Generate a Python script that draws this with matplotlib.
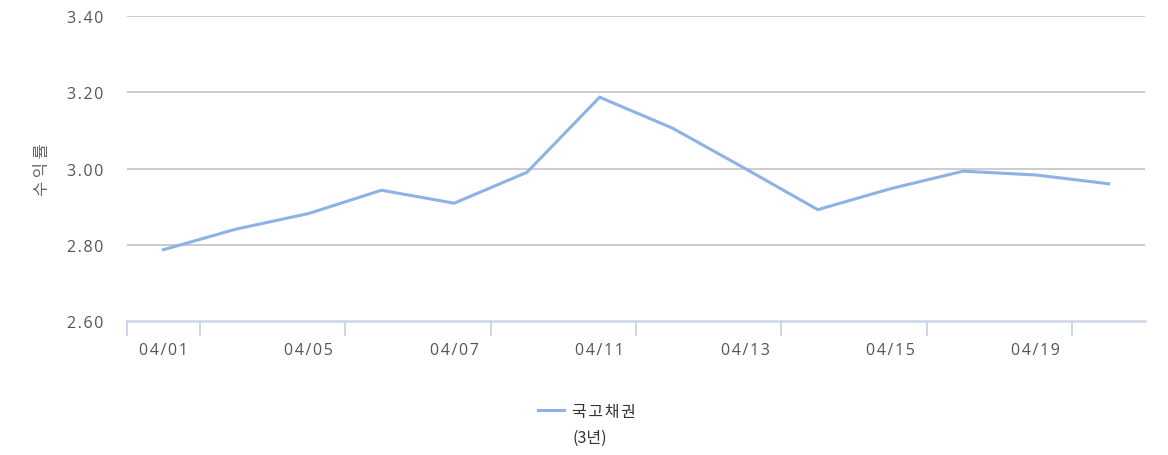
import matplotlib
matplotlib.use("Agg")
import matplotlib.pyplot as plt
from matplotlib.lines import Line2D

# ---- data ----
categories = ["04/01", "04/04", "04/05", "04/06", "04/07", "04/08", "04/11",
              "04/12", "04/13", "04/14", "04/15", "04/18", "04/19", "04/20"]
values = [2.787, 2.841, 2.882, 2.943, 2.909, 2.990, 3.187,
          3.106, 3.000, 2.892, 2.947, 2.993, 2.983, 2.960]
series_name = "국고채권"
series_sub = "(3년)"
y_title = "수익률"
y_ticks = [2.60, 2.80, 3.00, 3.20, 3.40]

LINE_COLOR = "#8db3e6"
KR = ["Noto Sans CJK KR", "DejaVu Sans"]
NUM = ["Open Sans", "DejaVu Sans"]
HS = "\u200a"  # hair space to mimic letter spacing


def spaced(s):
    return HS.join(s)


W, H = 1168, 456
fig = plt.figure(figsize=(W / 100, H / 100), dpi=100)
L, R, T, B = 127, 1145, 17, 322
ax = fig.add_axes([L / W, 1 - B / H, (R - L) / W, (B - T) / H])

x = list(range(len(categories)))
ax.plot(x, values, color=LINE_COLOR, lw=2.2, solid_joinstyle="miter", zorder=3)

ax.set_xlim(-0.5, len(categories) - 0.5)
ax.set_ylim(2.60, 3.40)

# y grid / ticks
ax.set_yticks(y_ticks)
ax.set_yticklabels([spaced(f"{v:.2f}") for v in y_ticks], family=NUM,
                   fontsize=11.5, color="#555555")
ax.tick_params(axis="y", length=0, pad=17)
for v in y_ticks[1:]:
    ax.axhline(v, color="#c8c8c8", lw=1.3, zorder=1)

# x axis: labels on every other category, tick marks at boundaries
label_idx = list(range(0, len(categories), 2))
ax.set_xticks(label_idx)
ax.set_xticklabels([spaced(categories[i]) for i in label_idx], family=NUM,
                   fontsize=11.5, color="#555555")
ax.tick_params(axis="x", length=0, pad=15)
bounds = [-0.5] + [i + 0.5 for i in range(0, len(categories) - 1, 2)]
for b in bounds:
    ax.plot([b, b], [0, -0.047], transform=ax.get_xaxis_transform(),
            color="#ccd6eb", lw=1.4, clip_on=False, zorder=2)

for s in ["top", "right", "left"]:
    ax.spines[s].set_visible(False)
ax.spines["bottom"].set_color("#ccd6eb")
ax.spines["bottom"].set_linewidth(1.8)

# y title
fig.text(42 / W, 1 - 170 / H, "\u2009".join(y_title), family=KR, fontsize=12,
         color="#666666", rotation=90, ha="center", va="center")

# legend (manual)
ly = 1 - 411 / H
fig.add_artist(Line2D([538 / W, 564 / W], [ly, ly], color=LINE_COLOR, lw=2.2))
fig.text(572 / W, 1 - 413 / H, HS.join(series_name), family=KR, fontsize=11.5,
         color="#333333", ha="left", va="center")
fig.text(572 / W, 1 - 438 / H, series_sub, family=KR, fontsize=11.5,
         color="#333333", ha="left", va="center")

fig.savefig("out.png", dpi=100)
